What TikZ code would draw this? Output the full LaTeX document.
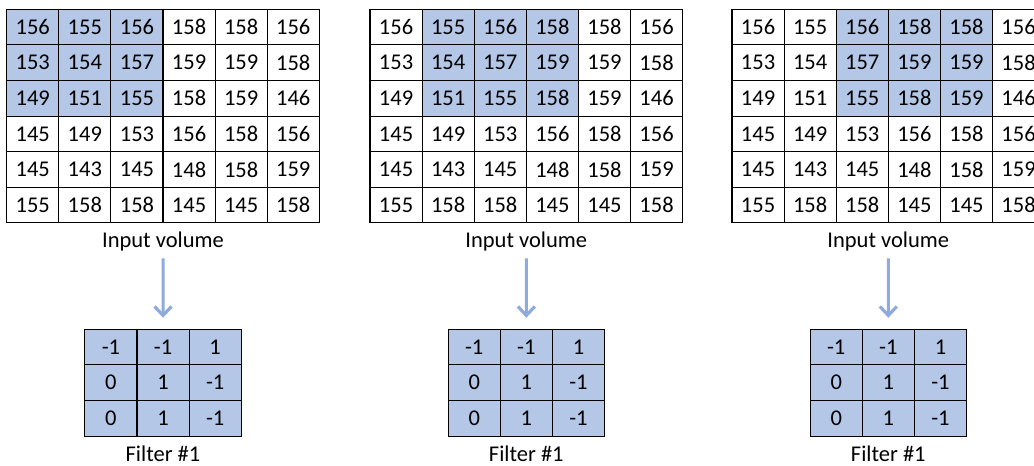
\documentclass[tikz,border=0pt]{standalone}
\usepackage{fontspec}
\setmainfont{Carlito}
\usetikzlibrary{arrows.meta}
\usetikzlibrary{positioning}
\definecolor{cellblue}{RGB}{180,199,231}
\definecolor{arrowblue}{RGB}{143,170,220}

\tikzset{
  every node/.style={font=\fontsize{22.5}{26}\selectfont},
  cell/.style={draw=black, line width=1.1pt, fill=#1, minimum width=52.1pt,
               minimum height=35.6pt, inner sep=0pt},
  caption/.style={inner sep=1pt, anchor=base},
  down/.style={draw=arrowblue, line width=3pt,
               -{Straight Barb[length=9pt,width=17pt,line width=3.2pt]}}
}

\begin{document}
\begin{tikzpicture}[x=1pt, y=-1pt]
  \useasboundingbox (0,0) rectangle (1034,466);

  % three positions of the 3x3 window
  \foreach \g/\gx/\hs in {1/6.7/1, 2/370/2, 3/732/3} {
    % input volume
    \foreach \row [count=\r] in {{156,155,156,158,158,156},
                                 {153,154,157,159,159,158},
                                 {149,151,155,158,159,146},
                                 {145,149,153,156,158,156},
                                 {145,143,145,148,158,159},
                                 {155,158,158,145,145,158}} {
      \foreach \val [count=\c] in \row {
        \pgfmathtruncatemacro{\hl}{(\r<4)&&(\c>=\hs)&&(\c<\hs+3)}
        \ifnum\hl=1 \def\cfill{cellblue}\else\def\cfill{white}\fi
        \node[cell=\cfill] (g\g-\r-\c) at (\gx+52.1*\c-26.05, 9.3+35.6*\r-17.8) {\val};
      }
    }
    \node[caption] (in\g) at (\gx+156.3, 247.5) {Input volume};

    % filter
    \foreach \row [count=\r] in {{-1,-1,1},{0,1,-1},{0,1,-1}} {
      \foreach \val [count=\c] in \row {
        \node[cell=cellblue] (f\g-\r-\c) at (\gx+78.2+52.1*\c-26.05, 329.3+35.6*\r-17.8) {\val};
      }
    }
    \node[caption] (fl\g) at (\gx+156.3, 461.5) {Filter \#1};

    \draw[down, shorten <=6pt, shorten >=11pt] (in\g.south) -- (f\g-1-2.north);
  }
\end{tikzpicture}
\end{document}
